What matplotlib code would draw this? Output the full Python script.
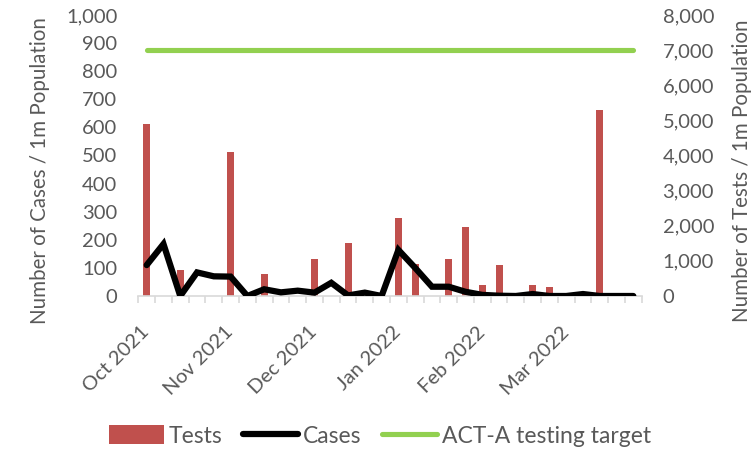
import matplotlib
matplotlib.use("Agg")
import matplotlib.pyplot as plt
from matplotlib.patches import Patch
from matplotlib.lines import Line2D
from matplotlib.ticker import FuncFormatter, FixedLocator

plt.rcParams['font.family'] = ['Lato', 'DejaVu Sans']

# ---- data ----
n_weeks = 30
tests = [4900, 0, 740, 0, 0, 4110, 0, 630, 0, 0,
         1050, 0, 1510, 0, 0, 2210, 910, 0, 1060, 1960,
         310, 870, 0, 310, 260, 0, 0, 5300, 0, 0]
cases = [110, 185, 0, 84, 70, 69, 0, 24, 13, 19,
         12, 47, 2, 12, 0, 164, 100, 33, 33, 15,
         4, 1, 0, 7, 0, 0, 7, 0, 0, 0]
target = 7000
month_labels = ["Oct 2021", "Nov 2021", "Dec 2021", "Jan 2022", "Feb 2022", "Mar 2022"]
month_positions = [0, 5, 10, 15, 20, 25]

gray = "#595959"
bar_color = "#C0504D"
green = "#92D050"

fig = plt.figure(figsize=(7.55, 4.5), dpi=100)
ax = fig.add_axes([138.3 / 755, 1 - 296 / 450, (641.7 - 138.3) / 755, (296 - 15) / 450])
ax2 = ax.twinx()

x = list(range(n_weeks))
ax2.bar(x, tests, width=0.42, color=bar_color, zorder=2)
ax2.plot([x[0], x[-1]], [target, target], color=green, lw=3.7, solid_capstyle='round', zorder=3)
ax.plot(x, cases, color='black', lw=4.5, solid_joinstyle='miter', solid_capstyle='round', zorder=4)

ax.set_zorder(ax2.get_zorder() + 1)
ax.patch.set_visible(False)

ax.set_xlim(-0.5, n_weeks - 0.5)
ax.set_ylim(0, 1000)
ax2.set_ylim(0, 8000)
ax.set_yticks(range(0, 1001, 100))
ax2.set_yticks(range(0, 8001, 1000))
fmt = FuncFormatter(lambda v, p: f"{int(v):,}")
ax.yaxis.set_major_formatter(fmt)
ax2.yaxis.set_major_formatter(fmt)

for a in (ax, ax2):
    for s in ('left', 'right', 'top'):
        a.spines[s].set_visible(False)
    a.spines['bottom'].set_color('#d9d9d9')
    a.spines['bottom'].set_linewidth(1.2)
    a.tick_params(axis='y', length=0, labelsize=14.5, labelcolor=gray, pad=15)
ax2.spines['bottom'].set_visible(False)

ax.set_xticks(month_positions)
ax.set_xticklabels(month_labels)
ax.xaxis.set_minor_locator(FixedLocator([i - 0.5 for i in range(n_weeks + 1)]))
ax.tick_params(axis='x', which='major', length=0, labelsize=14.5, labelcolor=gray, pad=24)
ax.tick_params(axis='x', which='minor', length=5, width=1.2, color='#d9d9d9')
for lbl in ax.get_xticklabels():
    lbl.set_rotation(45)
    lbl.set_ha('right')
    lbl.set_va('center')
    lbl.set_rotation_mode('anchor')

fig.text(40 / 755, 1 - 171 / 450, "Number of Cases / 1m Population", rotation=90,
         ha='center', va='center', fontsize=14.8, color=gray)
fig.text(742 / 755, 1 - 171 / 450, "Number of Tests / 1m Population", rotation=90,
         ha='center', va='center', fontsize=14.8, color=gray)

handles = [Patch(facecolor=bar_color, edgecolor='none'),
           Line2D([0], [0], color='black', lw=4.5, solid_capstyle='round'),
           Line2D([0], [0], color=green, lw=3.7, solid_capstyle='round')]
fig.legend(handles, ["Tests", "Cases", "ACT-A testing target"], loc='center',
           bbox_to_anchor=(380 / 755, 1 - 436 / 450), ncol=3, frameon=False,
           fontsize=16.5, labelcolor=gray, handlelength=2.4, handletextpad=0.2,
           columnspacing=0.9, handleheight=0.9)

fig.savefig("out.png", dpi=100)
